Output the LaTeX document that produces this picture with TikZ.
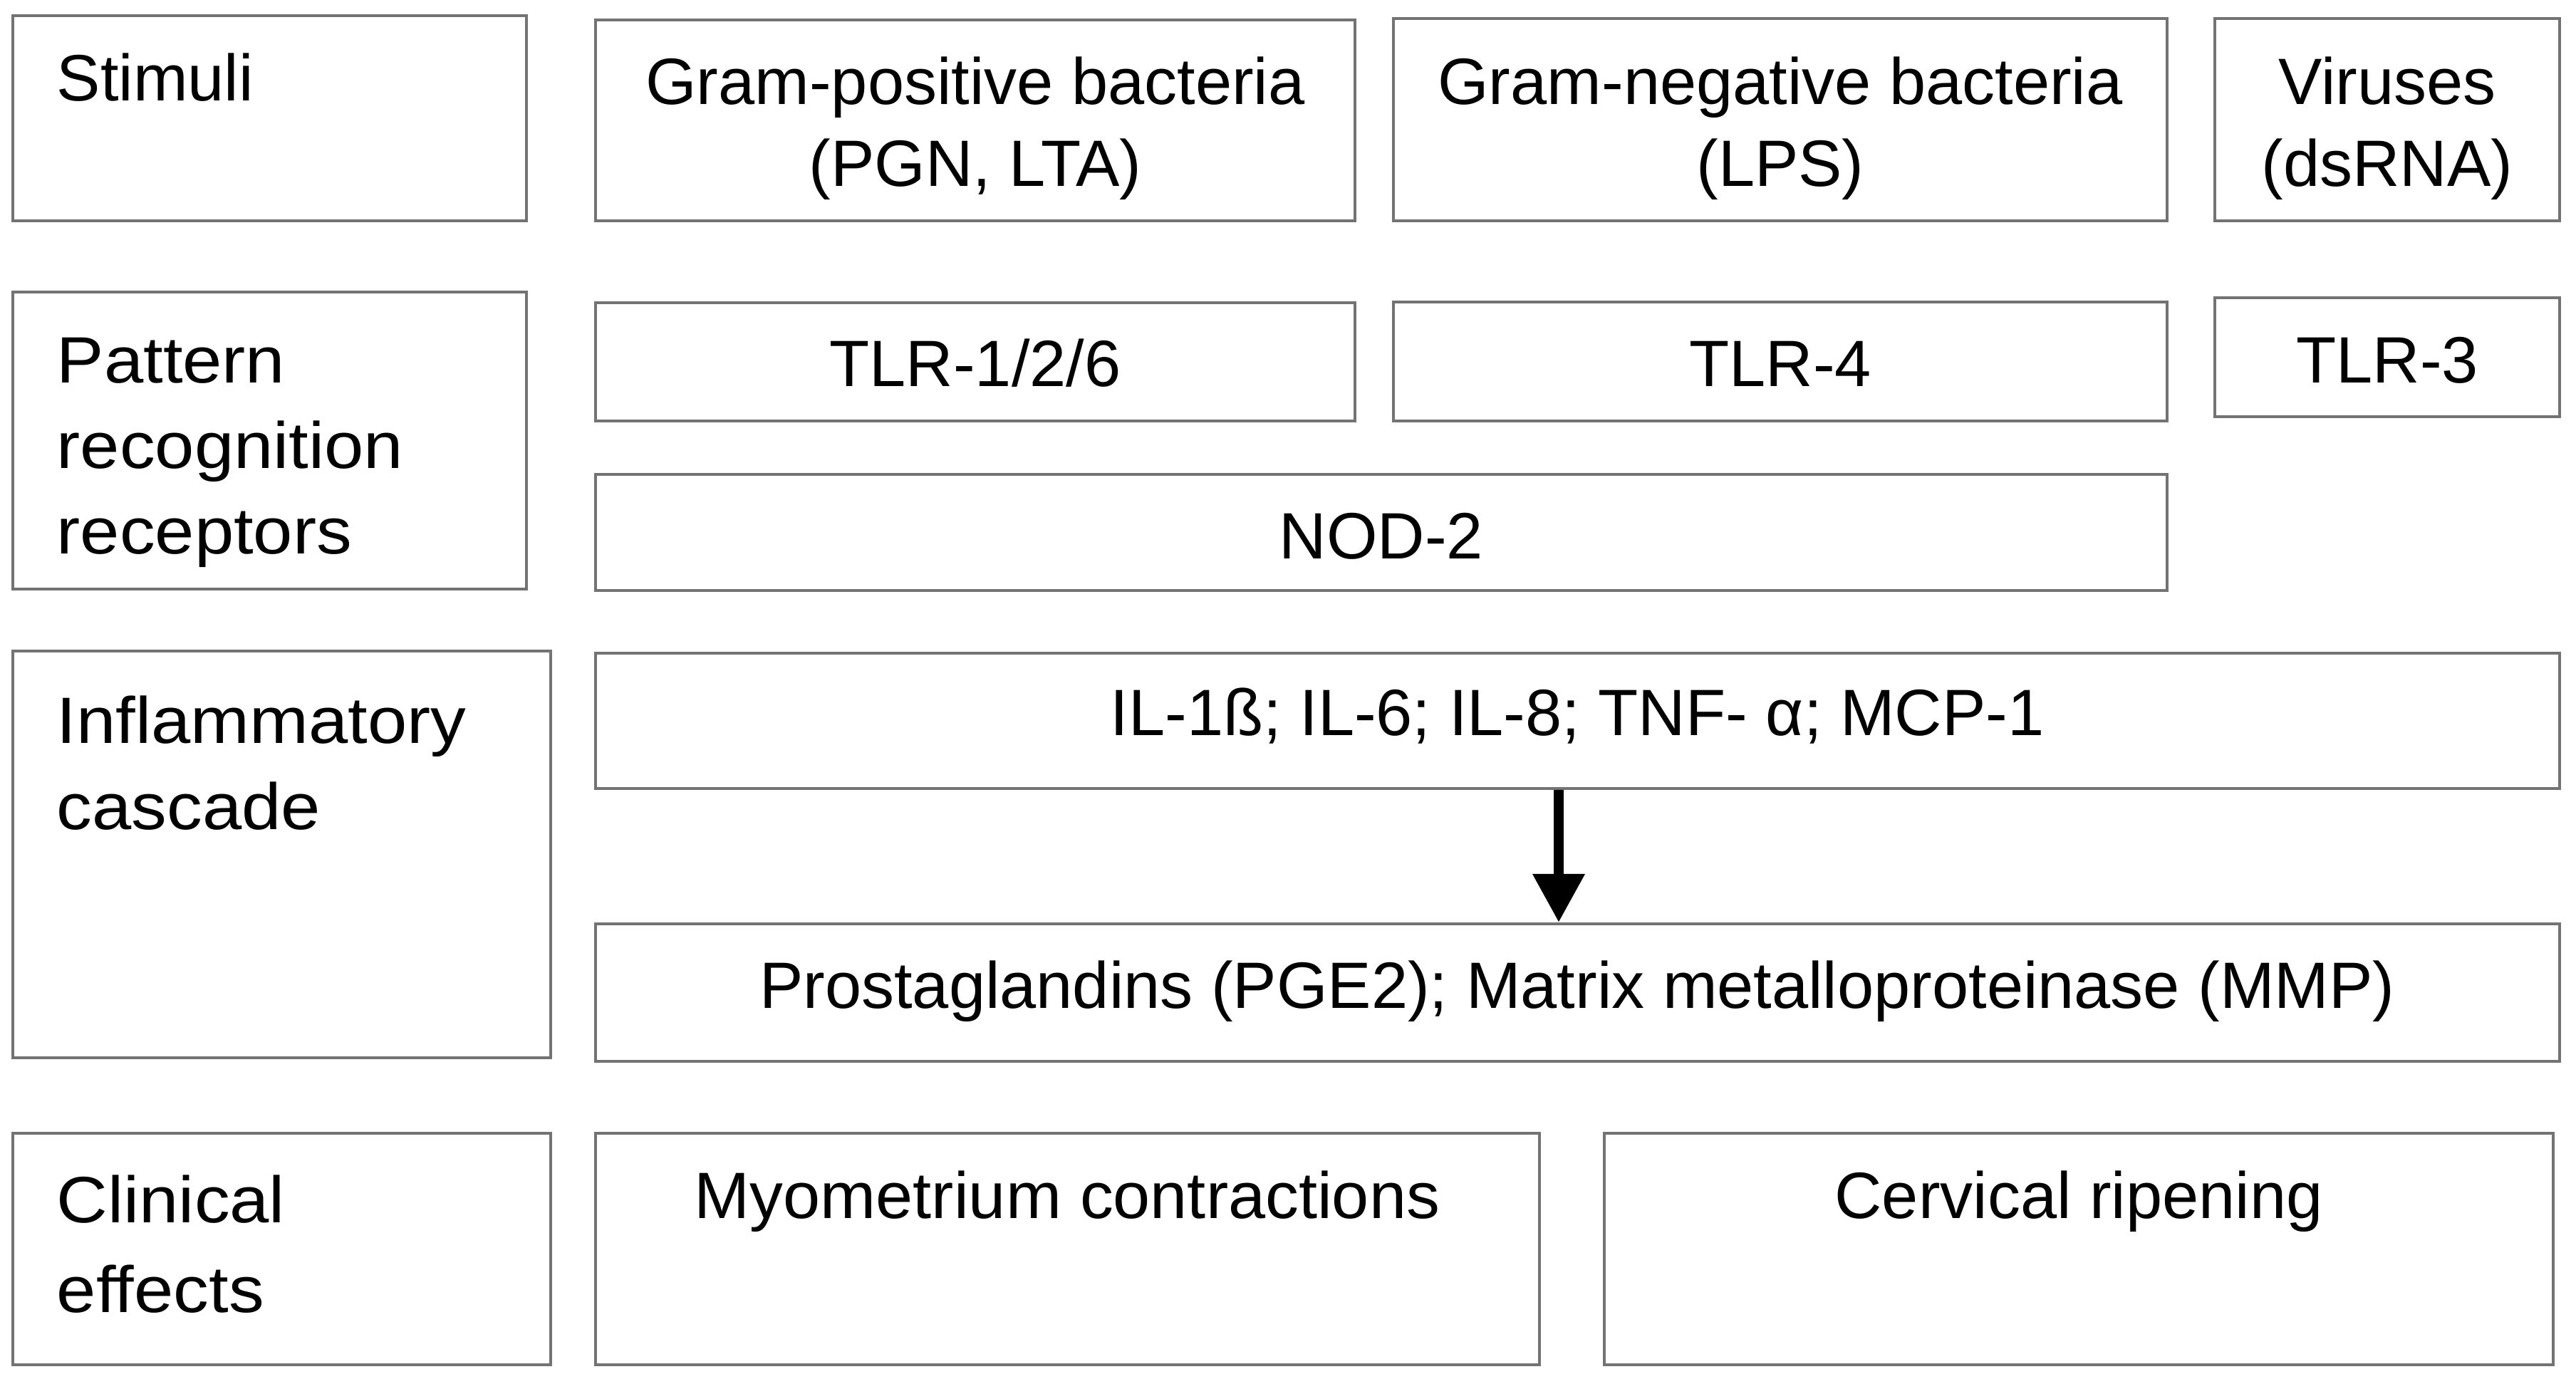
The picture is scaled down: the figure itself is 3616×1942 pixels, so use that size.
\documentclass[tikz,border=0pt]{standalone}
\usepackage{fontspec}
\setmainfont{Liberation Sans}
\usetikzlibrary{arrows.meta}
\begin{document}
\begin{tikzpicture}[x=0.25pt,y=-0.25pt,
  box/.style={draw=black!55, line width=1.1pt, fill=white, inner sep=0pt, rectangle},
  lbl/.style={inner sep=0pt, font=\fontsize{23}{29.5}\selectfont, text=black},
  lft/.style={lbl, anchor=base west},
  wide/.style={lft, xscale=1.08},
  ctr/.style={lbl, anchor=base},
  arr/.style={line width=3.5pt, -{Triangle[length=17pt,width=17.5pt]}}]
\useasboundingbox[fill=white] (0,0) rectangle (3616,1942);
% boxes
\node[box, minimum width=180.25pt, minimum height=72pt]    (stim)   at (378.5,166) {};
\node[box, minimum width=266.5pt,  minimum height=70.5pt]  (gpos)   at (1369,169) {};
\node[box, minimum width=271.5pt,  minimum height=71pt]    (gneg)   at (2499,168) {};
\node[box, minimum width=121pt,    minimum height=71pt]    (vir)    at (3351,168) {};
\node[box, minimum width=180.25pt, minimum height=104.25pt](prr)    at (378.5,618.5) {};
\node[box, minimum width=266.5pt,  minimum height=41.5pt]  (tlra)   at (1369,508) {};
\node[box, minimum width=271.5pt,  minimum height=41.75pt] (tlrb)   at (2499,507.5) {};
\node[box, minimum width=121pt,    minimum height=41.75pt] (tlrc)   at (3351,501.5) {};
\node[box, minimum width=551.5pt,  minimum height=40.75pt] (nod)    at (1939,747.5) {};
\node[box, minimum width=188.75pt, minimum height=142.75pt](infl)   at (395.5,1199.5) {};
\node[box, minimum width=689.25pt, minimum height=47.5pt]  (il)     at (2214.5,1012) {};
\node[box, minimum width=689.25pt, minimum height=48.25pt] (pg)     at (2214.5,1393.5) {};
\node[box, minimum width=188.75pt, minimum height=81.25pt] (clin)   at (395.5,1753.5) {};
\node[box, minimum width=331.25pt, minimum height=81.25pt] (myo)    at (1498.5,1753.5) {};
\node[box, minimum width=333pt,    minimum height=81.25pt] (cerv)   at (2918,1753.5) {};
% texts
\node[lft] (tstim) at (79,141) {Stimuli};
\node[ctr] (tgp1) at (1369,146) {Gram-positive bacteria};
\node[ctr] (tgp2) at (1369,261) {(PGN, LTA)};
\node[ctr] (tgn1) at (2499,146) {Gram-negative bacteria};
\node[ctr] (tgn2) at (2499,261) {(LPS)};
\node[ctr] (tv1) at (3351,146) {Viruses};
\node[ctr] (tv2) at (3351,261) {(dsRNA)};
\node[wide] (tp1) at (79,537) {Pattern};
\node[wide] (tp2) at (79,657) {recognition};
\node[wide] (tp3) at (79,777) {receptors};
\node[ctr] (ttlra) at (1369,542) {TLR-1/2/6};
\node[ctr] (ttlrb) at (2499,542) {TLR-4};
\node[ctr] (ttlrc) at (3351,537) {TLR-3};
\node[ctr] (tnod) at (1939,784) {NOD-2};
\node[wide] (ti1) at (79,1043) {Inflammatory};
\node[wide] (ti2) at (79,1164) {cascade};
\node[ctr] (til) at (2214,1032) {IL-1ß; IL-6; IL-8; TNF- α; MCP-1};
\node[ctr] (tpg) at (2214,1415) {Prostaglandins (PGE2); Matrix metalloproteinase (MMP)};
\node[wide] (tc1) at (79,1716) {Clinical};
\node[wide] (tc2) at (79,1842) {effects};
\node[ctr, xscale=1.018] (tmyo) at (1498,1710) {Myometrium contractions};
\node[ctr] (tcerv) at (2918,1710) {Cervical ripening};
% arrow
\coordinate (ax) at (2188,0);
\draw[arr] (il.south -| ax) -- (pg.north -| ax);
\end{tikzpicture}
\end{document}
